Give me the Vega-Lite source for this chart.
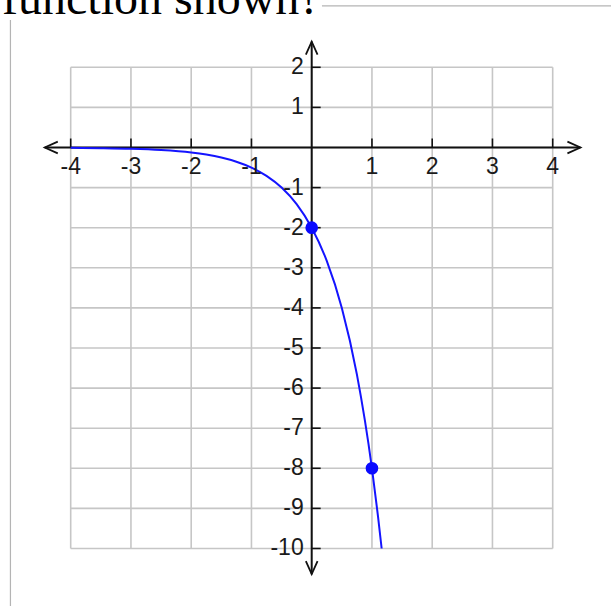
{
  "$schema": "https://vega.github.io/schema/vega-lite/v6.json",
  "width": 611,
  "height": 606,
  "autosize": {"type": "none"},
  "padding": 0,
  "background": "white",
  "config": {"view": {"stroke": null}},
  "datasets": {
    "one": [{"t": "function shown?"}],
    "gridx": [{"g": -4}, {"g": -3}, {"g": -2}, {"g": -1}, {"g": 0}, {"g": 1}, {"g": 2}, {"g": 3}, {"g": 4}],
    "gridy": [{"g": -10}, {"g": -9}, {"g": -8}, {"g": -7}, {"g": -6}, {"g": -5}, {"g": -4}, {"g": -3}, {"g": -2}, {"g": -1}, {"g": 0}, {"g": 1}, {"g": 2}],
    "xlab": [
      {"v": -4, "label": "-4"}, {"v": -3, "label": "-3"}, {"v": -2, "label": "-2"}, {"v": -1, "label": "-1"},
      {"v": 1, "label": "1"}, {"v": 2, "label": "2"}, {"v": 3, "label": "3"}, {"v": 4, "label": "4"}
    ],
    "ylab": [
      {"v": -10, "label": "-10"}, {"v": -9, "label": "-9"}, {"v": -8, "label": "-8"}, {"v": -7, "label": "-7"},
      {"v": -6, "label": "-6"}, {"v": -5, "label": "-5"}, {"v": -4, "label": "-4"}, {"v": -3, "label": "-3"},
      {"v": -2, "label": "-2"}, {"v": -1, "label": "-1"}, {"v": 1, "label": "1"}, {"v": 2, "label": "2"}
    ],
    "arrows": [
      {"ax": -4.43, "ay": 0, "dir": "left"},
      {"ax": 4.46, "ay": 0, "dir": "right"},
      {"ax": 0, "ay": 2.64, "dir": "up"},
      {"ax": 0, "ay": -10.64, "dir": "down"}
    ],
    "curve": [
      {"x": -4, "y": -0.008}, {"x": -3.5, "y": -0.016}, {"x": -3, "y": -0.031}, {"x": -2.5, "y": -0.063},
      {"x": -2, "y": -0.125}, {"x": -1.75, "y": -0.177}, {"x": -1.5, "y": -0.25}, {"x": -1.25, "y": -0.354},
      {"x": -1, "y": -0.5}, {"x": -0.75, "y": -0.707}, {"x": -0.5, "y": -1}, {"x": -0.25, "y": -1.414},
      {"x": 0, "y": -2}, {"x": 0.25, "y": -2.828}, {"x": 0.5, "y": -4}, {"x": 0.75, "y": -5.657},
      {"x": 1, "y": -8}, {"x": 1.1, "y": -9.19}, {"x": 1.161, "y": -10}
    ],
    "pts": [{"x": 0, "y": -2}, {"x": 1, "y": -8}]
  },
  "layer": [
    {
      "data": {"name": "one"},
      "mark": {"type": "rule", "color": "#b4b4b4", "strokeWidth": 1.2},
      "encoding": {
        "x": {"datum": -5.0, "type": "quantitative", "scale": {"domain": [-5.1734, 4.9676], "nice": false, "zero": false}, "axis": null},
        "y": {"datum": 3.18, "type": "quantitative", "scale": {"domain": [-11.434, 3.678], "nice": false, "zero": false}, "axis": null},
        "y2": {"datum": -11.434}
      }
    },
    {
      "data": {"name": "one"},
      "mark": {"type": "rule", "color": "#b4b4b4", "strokeWidth": 1.2},
      "encoding": {
        "x": {"datum": 0.17, "type": "quantitative", "scale": {"domain": [-5.1734, 4.9676], "nice": false, "zero": false}, "axis": null},
        "x2": {"datum": 4.9676},
        "y": {"datum": 3.529, "type": "quantitative", "scale": {"domain": [-11.434, 3.678], "nice": false, "zero": false}, "axis": null}
      }
    },
    {
      "data": {"name": "one"},
      "mark": {"type": "text", "font": "Liberation Serif", "fontSize": 48, "color": "black", "align": "left", "baseline": "alphabetic"},
      "encoding": {
        "x": {"datum": -5.14, "type": "quantitative", "scale": {"domain": [-5.1734, 4.9676], "nice": false, "zero": false}, "axis": null},
        "y": {"datum": 3.322, "type": "quantitative", "scale": {"domain": [-11.434, 3.678], "nice": false, "zero": false}, "axis": null},
        "text": {"field": "t"}
      }
    },
    {
      "data": {"name": "gridx"},
      "mark": {"type": "rule", "color": "#c6c6c6", "strokeWidth": 1.6},
      "encoding": {
        "x": {"field": "g", "type": "quantitative", "scale": {"domain": [-5.1734, 4.9676], "nice": false, "zero": false}, "axis": null},
        "y": {"datum": -10, "type": "quantitative", "scale": {"domain": [-11.434, 3.678], "nice": false, "zero": false}, "axis": null},
        "y2": {"datum": 2}
      }
    },
    {
      "data": {"name": "gridy"},
      "mark": {"type": "rule", "color": "#c6c6c6", "strokeWidth": 1.6},
      "encoding": {
        "y": {"field": "g", "type": "quantitative", "scale": {"domain": [-11.434, 3.678], "nice": false, "zero": false}, "axis": null},
        "x": {"datum": -4, "type": "quantitative", "scale": {"domain": [-5.1734, 4.9676], "nice": false, "zero": false}, "axis": null},
        "x2": {"datum": 4}
      }
    },
    {
      "data": {"name": "one"},
      "mark": {"type": "rule", "color": "#111111", "strokeWidth": 2},
      "encoding": {
        "x": {"datum": -4.43, "type": "quantitative", "scale": {"domain": [-5.1734, 4.9676], "nice": false, "zero": false}, "axis": null},
        "x2": {"datum": 4.46},
        "y": {"datum": 0, "type": "quantitative", "scale": {"domain": [-11.434, 3.678], "nice": false, "zero": false}, "axis": null}
      }
    },
    {
      "data": {"name": "one"},
      "mark": {"type": "rule", "color": "#111111", "strokeWidth": 2},
      "encoding": {
        "x": {"datum": 0, "type": "quantitative", "scale": {"domain": [-5.1734, 4.9676], "nice": false, "zero": false}, "axis": null},
        "y": {"datum": -10.64, "type": "quantitative", "scale": {"domain": [-11.434, 3.678], "nice": false, "zero": false}, "axis": null},
        "y2": {"datum": 2.64}
      }
    },
    {
      "data": {"name": "xlab"},
      "mark": {"type": "rule", "color": "#111111", "strokeWidth": 1.6},
      "encoding": {
        "x": {"field": "v", "type": "quantitative", "scale": {"domain": [-5.1734, 4.9676], "nice": false, "zero": false}, "axis": null},
        "y": {"datum": 0, "type": "quantitative", "scale": {"domain": [-11.434, 3.678], "nice": false, "zero": false}, "axis": null},
        "y2": {"datum": 0.224}
      }
    },
    {
      "data": {"name": "ylab"},
      "mark": {"type": "rule", "color": "#111111", "strokeWidth": 1.6},
      "encoding": {
        "y": {"field": "v", "type": "quantitative", "scale": {"domain": [-11.434, 3.678], "nice": false, "zero": false}, "axis": null},
        "x": {"datum": 0, "type": "quantitative", "scale": {"domain": [-5.1734, 4.9676], "nice": false, "zero": false}, "axis": null},
        "x2": {"datum": 0.149}
      }
    },
    {
      "data": {"name": "arrows"},
      "mark": {"type": "point", "filled": false, "size": 676, "stroke": "#111111", "strokeWidth": 1.8, "opacity": 1},
      "encoding": {
        "x": {"field": "ax", "type": "quantitative", "scale": {"domain": [-5.1734, 4.9676], "nice": false, "zero": false}, "axis": null},
        "y": {"field": "ay", "type": "quantitative", "scale": {"domain": [-11.434, 3.678], "nice": false, "zero": false}, "axis": null},
        "shape": {
          "field": "dir",
          "type": "nominal",
          "scale": {
            "domain": ["left", "right", "up", "down"],
            "range": ["M 1 -0.45 L 0 0 L 1 0.45", "M -1 -0.45 L 0 0 L -1 0.45", "M -0.45 1 L 0 0 L 0.45 1", "M -0.45 -1 L 0 0 L 0.45 -1"]
          },
          "legend": null
        }
      }
    },
    {
      "data": {"name": "curve"},
      "mark": {"type": "line", "color": "#1414ff", "strokeWidth": 2, "interpolate": "monotone"},
      "encoding": {
        "x": {"field": "x", "type": "quantitative", "scale": {"domain": [-5.1734, 4.9676], "nice": false, "zero": false}, "axis": null},
        "y": {"field": "y", "type": "quantitative", "scale": {"domain": [-11.434, 3.678], "nice": false, "zero": false}, "axis": null}
      }
    },
    {
      "data": {"name": "pts"},
      "mark": {"type": "point", "shape": "circle", "filled": true, "size": 160, "color": "#0a0aff", "opacity": 1},
      "encoding": {
        "x": {"field": "x", "type": "quantitative", "scale": {"domain": [-5.1734, 4.9676], "nice": false, "zero": false}, "axis": null},
        "y": {"field": "y", "type": "quantitative", "scale": {"domain": [-11.434, 3.678], "nice": false, "zero": false}, "axis": null}
      }
    },
    {
      "data": {"name": "xlab"},
      "mark": {"type": "text", "font": "Liberation Sans", "fontSize": 23, "color": "#1a1a1a", "align": "center", "baseline": "alphabetic", "dy": 27},
      "encoding": {
        "x": {"field": "v", "type": "quantitative", "scale": {"domain": [-5.1734, 4.9676], "nice": false, "zero": false}, "axis": null},
        "y": {"datum": 0, "type": "quantitative", "scale": {"domain": [-11.434, 3.678], "nice": false, "zero": false}, "axis": null},
        "text": {"field": "label"}
      }
    },
    {
      "data": {"name": "ylab"},
      "mark": {"type": "text", "font": "Liberation Sans", "fontSize": 23, "color": "#1a1a1a", "align": "right", "baseline": "middle", "dx": -8},
      "encoding": {
        "y": {"field": "v", "type": "quantitative", "scale": {"domain": [-11.434, 3.678], "nice": false, "zero": false}, "axis": null},
        "x": {"datum": 0, "type": "quantitative", "scale": {"domain": [-5.1734, 4.9676], "nice": false, "zero": false}, "axis": null},
        "text": {"field": "label"}
      }
    }
  ]
}
